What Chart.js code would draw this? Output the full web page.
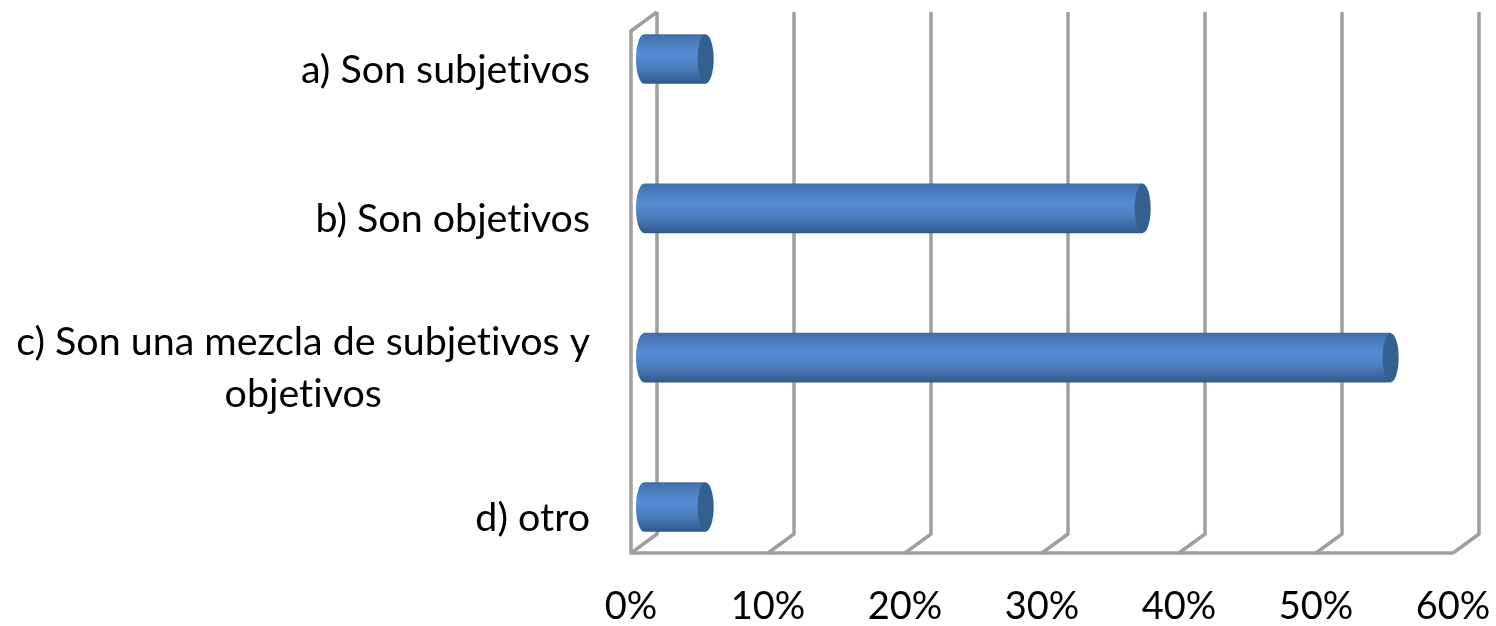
<!DOCTYPE html>
<html lang="es">
<head>
<meta charset="UTF-8">
<title>Gráfico de barras</title>
<script src="https://cdn.jsdelivr.net/npm/chart.js"></script>
<style>
    html, body { margin: 0; padding: 0; background: #fff; }
    canvas { display: block; }
</style>
</head>
<body>
<canvas id="grafico" width="1496" height="626"></canvas>
<script>
const categorias = [
    ['a) Son subjetivos'],
    ['b) Son objetivos'],
    ['c) Son una mezcla de subjetivos y', 'objetivos'],
    ['d) otro']
];
const valores = [4.5, 36.4, 54.5, 4.5];
const ticksX = [0, 10, 20, 30, 40, 50, 60];

const FUENTE = 'Lato, Carlito, sans-serif';
const TAM_FUENTE = 39.4;
const TAM_TICKS = 38;
const COLOR_MARCO = '#9f9f9f';

// perspectiva falsa del 3D de Excel
const fondoX = 26, fondoY = 19;      // plano trasero respecto al frontal
const barraX = 13, barraY = 10;      // las barras van a media profundidad
const sueloY = 36, techoY = 38;      // el marco sobresale del area de categorias
const radioTapa = 8;

function gradienteBarra(ctx, y, alto) {
    const g = ctx.createLinearGradient(0, y - alto / 2, 0, y + alto / 2);
    g.addColorStop(0, '#3f6da6');
    g.addColorStop(0.1, '#4778b6');
    g.addColorStop(0.4, '#558dd5');
    g.addColorStop(0.7, '#4a7cba');
    g.addColorStop(1, '#2f5a8c');
    return g;
}

const marco3d = {
    id: 'marco3d',
    beforeDatasetsDraw(chart) {
        const { ctx, chartArea, scales } = chart;
        const abajo = chartArea.bottom + sueloY;
        const arriba = chartArea.top - techoY;
        ctx.save();
        ctx.strokeStyle = COLOR_MARCO;
        ctx.lineWidth = 3.5;
        ctx.lineJoin = 'round';
        ticksX.forEach(t => {
            const x = scales.x.getPixelForValue(t);
            ctx.beginPath();
            ctx.moveTo(x, abajo);
            ctx.lineTo(x + fondoX, abajo - fondoY);
            ctx.lineTo(x + fondoX, arriba - fondoY);
            ctx.stroke();
        });
        const x0 = scales.x.getPixelForValue(0);
        const xN = scales.x.getPixelForValue(ticksX[ticksX.length - 1]);
        ctx.beginPath();
        ctx.moveTo(x0 + fondoX, arriba - fondoY);
        ctx.lineTo(x0, arriba);
        ctx.lineTo(x0, abajo);
        ctx.lineTo(xN, abajo);
        ctx.stroke();
        ctx.restore();
        // barras desplazadas hacia el fondo
        ctx.save();
        ctx.translate(barraX, -barraY);
    },
    afterDatasetsDraw(chart) {
        const { ctx } = chart;
        chart.getDatasetMeta(0).data.forEach(b => {
            const ry = b.height / 2;
            // lado redondeado de la base
            ctx.fillStyle = gradienteBarra(ctx, b.y, b.height);
            ctx.beginPath();
            ctx.ellipse(b.base, b.y, radioTapa, ry, 0, Math.PI / 2, Math.PI * 1.5);
            ctx.fill();
            // tapa del cilindro
            ctx.beginPath();
            ctx.ellipse(b.x, b.y, radioTapa, ry, 0, 0, Math.PI * 2);
            ctx.fillStyle = '#33608f';
            ctx.fill();
        });
        ctx.restore();
    },
    afterDraw(chart) {
        // etiquetas de categoria: bloque a la derecha, lineas centradas entre si
        const { ctx, scales } = chart;
        const borde = scales.x.getPixelForValue(0) - 41;
        const altoLinea = 52;
        ctx.save();
        ctx.font = TAM_FUENTE + 'px ' + FUENTE;
        ctx.textRendering = 'optimizeSpeed'; // sin ligaduras
        ctx.fillStyle = '#000';
        ctx.textAlign = 'center';
        ctx.textBaseline = 'middle';
        categorias.forEach((lineas, i) => {
            const ancho = Math.max(...lineas.map(l => ctx.measureText(l).width));
            const y0 = scales.y.getPixelForValue(i) + 1 - (lineas.length - 1) * altoLinea / 2;
            lineas.forEach((l, j) => ctx.fillText(l, borde - ancho / 2, y0 + j * altoLinea));
        });
        ctx.restore();
    }
};

new Chart(document.getElementById('grafico'), {
    type: 'bar',
    data: {
        labels: categorias,
        datasets: [{
            data: valores,
            barThickness: 49,
            clip: false,
            backgroundColor(c) {
                const y = c.chart.scales.y;
                const py = y && c.dataIndex !== undefined ? y.getPixelForValue(c.dataIndex) : NaN;
                if (!Number.isFinite(py)) return '#4f81bd';
                return gradienteBarra(c.chart.ctx, py, 49);
            }
        }]
    },
    options: {
        indexAxis: 'y',
        responsive: false,
        animation: false,
        layout: { padding: { left: 631, right: 43, top: 69, bottom: 0 } },
        plugins: { legend: { display: false }, tooltip: { enabled: false } },
        scales: {
            x: {
                min: 0,
                max: 60,
                grid: { display: false },
                border: { display: false },
                afterBuildTicks(ax) { ax.ticks = ticksX.map(v => ({ value: v })); },
                afterFit(ax) { ax.height = 109; ax.paddingLeft = 0; ax.paddingRight = 0; },
                ticks: {
                    maxRotation: 0,
                    padding: 59,
                    color: '#000',
                    font: { family: FUENTE, size: TAM_TICKS },
                    callback: v => v + '%'
                }
            },
            y: {
                offset: false,
                grid: { display: false },
                border: { display: false },
                afterFit(ax) { ax.width = 0; },
                ticks: { display: false }
            }
        }
    },
    plugins: [marco3d]
});
</script>
</body>
</html>
